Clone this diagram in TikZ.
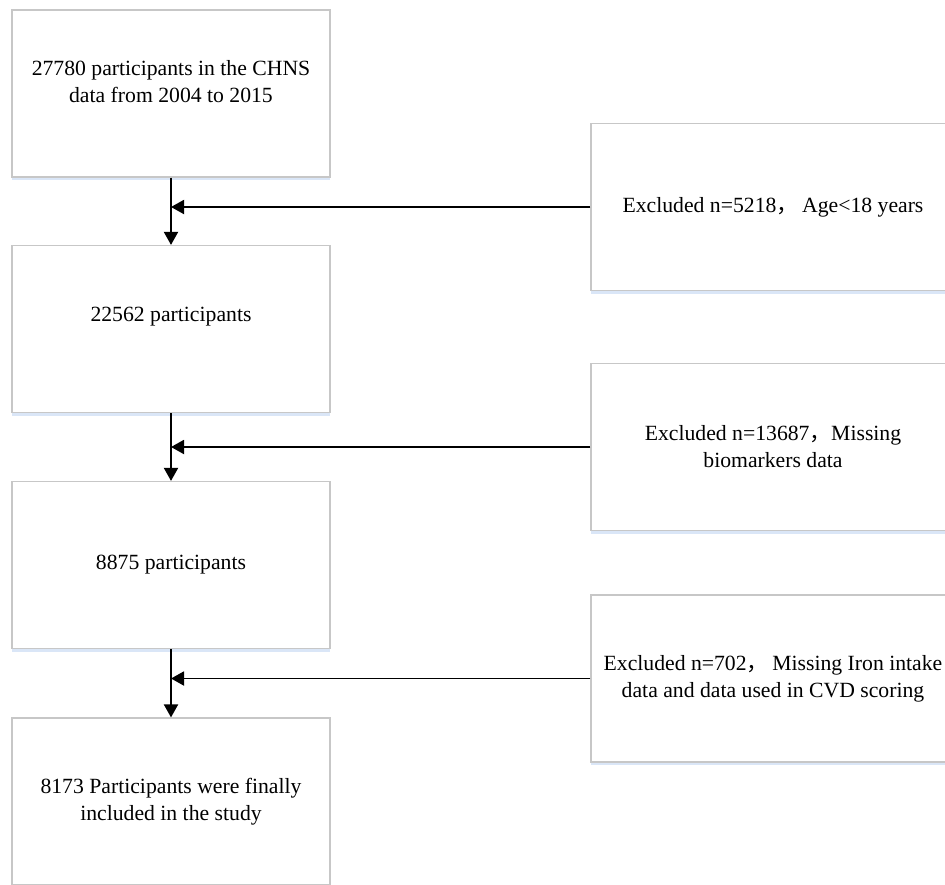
\documentclass[tikz,border=0pt]{standalone}
\usepackage{fontspec}
\setmainfont{Liberation Serif}
\newfontfamily\cjk{Noto Sans CJK SC}
\usetikzlibrary{arrows.meta,shadows}
\definecolor{boxgray}{rgb}{0.78,0.78,0.78}
\definecolor{shadowblue}{rgb}{0.82,0.88,0.96}
\newcommand{\fwcomma}{{\cjk ，}}

\begin{document}
\begin{tikzpicture}[x=1pt, y=-1pt,
	stage/.style={rectangle, draw=boxgray, line width=1.2pt, fill=white, minimum width=318pt, minimum height=167pt, align=center, font=\fontsize{21.7}{27}\selectfont, drop shadow={shadow xshift=0pt, shadow yshift=-3pt, fill=shadowblue, opacity=0.8}},
	excl/.style={stage, minimum width=364pt},
	flow/.style={line width=1.9pt, -{Triangle[width=14pt,length=13pt]}}]
	\clip (0,0) rectangle (945,884);
	\node[stage, text depth=24pt] (p1) at (171,93.5) {27780 participants in the CHNS\\data from 2004 to 2015};
	\node[stage, text depth=28.7pt] (p2) at (171,329) {22562 participants};
	\node[stage] (p3) at (171,565) {8875 participants};
	\node[stage] (p4) at (171,801.5) {8173 Participants were finally\\included in the study};

	\node[excl] (e1) at (773,207) {Excluded n=5218\fwcomma\hspace{4pt}Age<18 years};
	\node[excl] (e2) at (773,447) {Excluded n=13687\fwcomma Missing\\biomarkers data};
	\node[excl] (e3) at (773,678.5) {Excluded n=702\fwcomma\hspace{4pt}Missing Iron intake\\data and data used in CVD scoring};

	\draw[flow] (p1) -- (p2);
	\draw[flow] (p2) -- (p3);
	\draw[flow] (p3) -- (p4);
	\draw[flow] (e1) -- (e1 -| p1);
	\draw[flow] (e2) -- (e2 -| p2);
	\draw[flow] (e3) -- (e3 -| p3);
\end{tikzpicture}
\end{document}
